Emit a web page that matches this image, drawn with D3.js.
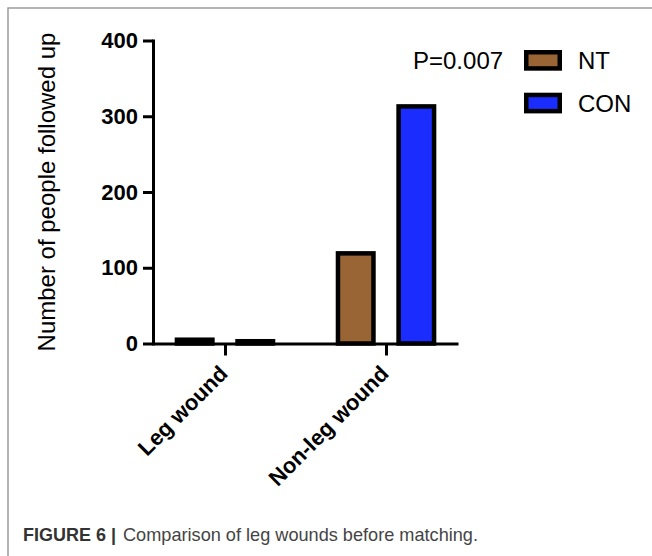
<!DOCTYPE html>
<html>
<head>
<meta charset="utf-8">
<script src="https://cdn.jsdelivr.net/npm/d3@7"></script>
<style>
    body { margin: 0; background: #fff; }
    svg { display: block; font-family: "Liberation Sans", Arial, sans-serif; }
</style>
</head>
<body>
<div id="chart"></div>
<script>
// Data
var categories = ["Leg wound", "Non-leg wound"];
var groups = ["NT", "CON"];
var ntValues = [5, 119];
var conValues = [3, 313];
var yTicks = [0, 100, 200, 300, 400];
var pValueText = "P=0.007";
var yTitle = "Number of people followed up";
var captionBold = "FIGURE 6 |";
var captionText = "Comparison of leg wounds before matching.";

var colors = { NT: "#9a6534", CON: "#1b2cff" };

var width = 652, height = 556;
var barStroke = 4.5, barWidth = 35.5;

var svg = d3.select("#chart").append("svg")
    .attr("width", width)
    .attr("height", height);

// Figure frame (top and left edge only)
svg.append("path")
    .attr("d", "M8,556V8H652")
    .attr("fill", "none")
    .attr("stroke", "#9c9c9c")
    .attr("stroke-width", 1.5);

var y = d3.scaleLinear().domain([0, 400]).range([343.5, 40.5]);
var x = d3.scalePoint().domain(categories).range([153, 458]).padding(0.447);
var xSub = d3.scalePoint().domain(groups).range([-30.3, 30.3]);

// Bars
var rows = categories.map(function (c, i) {
    return { cat: c, values: [ntValues[i], conValues[i]] };
});

var barGroups = svg.append("g").selectAll("g")
    .data(rows)
    .join("g")
    .attr("transform", function (d) { return "translate(" + x(d.cat) + ",0)"; });

barGroups.selectAll("rect")
    .data(function (d) {
        return groups.map(function (g, j) { return { group: g, value: d.values[j] }; });
    })
    .join("rect")
    .attr("x", function (d) { return xSub(d.group) - barWidth / 2; })
    .attr("y", function (d) { return y(d.value); })
    .attr("width", barWidth)
    .attr("height", function (d) { return y(0) - y(d.value); })
    .attr("fill", function (d) { return colors[d.group]; })
    .attr("stroke", "#000")
    .attr("stroke-width", barStroke);

// Y axis
var yAxis = svg.append("g")
    .attr("transform", "translate(153,0)")
    .call(d3.axisLeft(y).tickValues(yTicks).tickSize(10).tickSizeOuter(0).tickPadding(5));
yAxis.select(".domain").attr("stroke-width", 3).attr("stroke-linecap", "square");
yAxis.selectAll(".tick line").attr("stroke-width", 3);
yAxis.selectAll(".tick text")
    .attr("font-size", 22)
    .attr("font-weight", "bold")
    .attr("fill", "#000")
    .attr("font-family", "Liberation Sans, Arial, sans-serif");

// X axis
var xAxis = svg.append("g")
    .attr("transform", "translate(0," + y(0) + ")")
    .call(d3.axisBottom(x).tickSize(12).tickSizeOuter(0));
xAxis.select(".domain").attr("stroke-width", 3);
xAxis.selectAll(".tick line").attr("stroke-width", 3);
xAxis.selectAll(".tick text").remove();

// Rotated category labels
svg.append("g").selectAll("text")
    .data(categories)
    .join("text")
    .attr("transform", function (d) { return "translate(" + (x(d) + 4) + ",375) rotate(-45)"; })
    .attr("text-anchor", "end")
    .attr("font-size", 22)
    .attr("font-weight", "bold")
    .text(function (d) { return d; });

// Y title
svg.append("text")
    .attr("transform", "translate(55,192) rotate(-90)")
    .attr("text-anchor", "middle")
    .attr("font-size", 24)
    .text(yTitle);

// P value and legend
svg.append("text")
    .attr("x", 413).attr("y", 69)
    .attr("font-size", 24)
    .text(pValueText);

var legend = svg.append("g").selectAll("g")
    .data(groups)
    .join("g")
    .attr("transform", function (d, i) { return "translate(524," + (50 + i * 42.7) + ")"; });

legend.append("rect")
    .attr("x", barStroke / 2).attr("y", barStroke / 2)
    .attr("width", 38 - barStroke).attr("height", 20.7 - barStroke)
    .attr("fill", function (d) { return colors[d]; })
    .attr("stroke", "#000")
    .attr("stroke-width", barStroke);

legend.append("text")
    .attr("x", 54).attr("y", 19)
    .attr("font-size", 24)
    .text(function (d) { return d; });

// Caption, squeezed to look like the narrow journal font
svg.append("text")
    .attr("x", 23).attr("y", 541)
    .attr("font-size", 19)
    .attr("font-weight", "bold")
    .attr("fill", "#333")
    .attr("textLength", 93)
    .attr("lengthAdjust", "spacingAndGlyphs")
    .text(captionBold);

svg.append("text")
    .attr("x", 123).attr("y", 541)
    .attr("font-size", 19)
    .attr("fill", "#444")
    .attr("textLength", 355)
    .attr("lengthAdjust", "spacingAndGlyphs")
    .text(captionText);
</script>
</body>
</html>
